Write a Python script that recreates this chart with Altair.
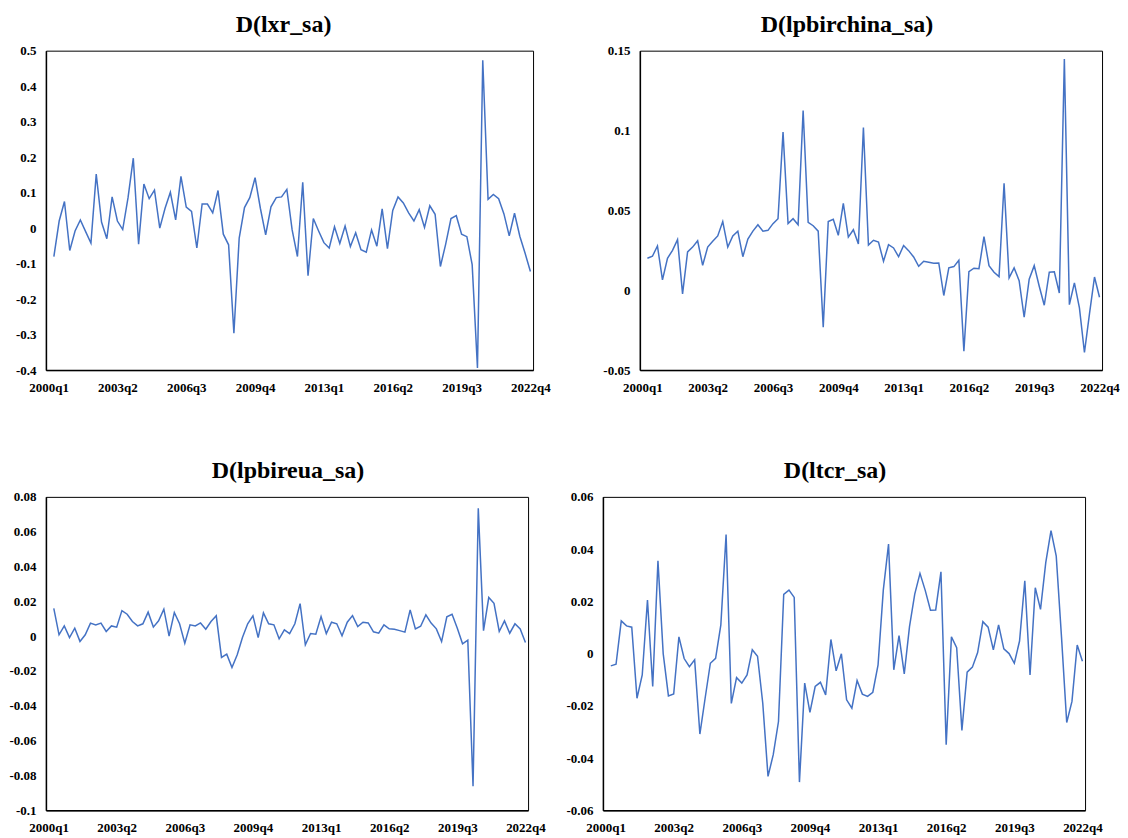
import altair as alt
import pandas as pd

# quarter categories
years = list(range(2000, 2023))
quarters = [f"{y}q{q}" for y in years for q in range(1, 5)]  # 2000q1 .. 2022q4
obs_quarters = quarters[1:]  # first difference starts in 2000q2
tick_labels = ["2000q1", "2003q2", "2006q3", "2009q4", "2013q1", "2016q2", "2019q3", "2022q4"]

d_lxr = [-0.080, 0.020, 0.075, -0.063, -0.008, 0.023, -0.010, -0.042, 0.152, 0.017,
         -0.030, 0.088, 0.020, -0.004, 0.085, 0.197, -0.045, 0.124, 0.083, 0.107,
         0.000, 0.056, 0.101, 0.023, 0.146, 0.059, 0.047, -0.056, 0.068, 0.068,
         0.043, 0.106, -0.017, -0.047, -0.296, -0.028, 0.058, 0.086, 0.142, 0.056,
         -0.019, 0.060, 0.086, 0.088, 0.109, -0.005, -0.080, 0.129, -0.134, 0.027,
         -0.008, -0.041, -0.056, 0.004, -0.043, 0.006, -0.052, -0.013, -0.061, -0.068,
         -0.005, -0.051, 0.054, -0.058, 0.050, 0.088, 0.071, 0.043, 0.020, 0.052,
         0.002, 0.063, 0.039, -0.108, -0.045, 0.027, 0.035, -0.017, -0.024, -0.103,
         -0.394, 0.473, 0.081, 0.095, 0.083, 0.040, -0.022, 0.042, -0.023, -0.071,
         -0.122]

d_lpbirchina = [0.0200, 0.0213, 0.0277, 0.0065, 0.0200, 0.0250, 0.0317, -0.0023, 0.0240, 0.0270,
                0.0310, 0.0156, 0.0270, 0.0306, 0.0340, 0.0430, 0.0270, 0.0340, 0.0370, 0.0210,
                0.0320, 0.0370, 0.0410, 0.0370, 0.0375, 0.0417, 0.0448, 0.0990, 0.0417, 0.0448,
                0.0410, 0.1125, 0.0425, 0.0404, 0.0370, -0.0231, 0.0430, 0.0444, 0.0344, 0.0544,
                0.0333, 0.0379, 0.0290, 0.1019, 0.0283, 0.0313, 0.0302, 0.0181, 0.0285, 0.0265,
                0.0210, 0.0280, 0.0248, 0.0208, 0.0150, 0.0181, 0.0175, 0.0169, 0.0171, -0.0033,
                0.0140, 0.0148, 0.0188, -0.0381, 0.0117, 0.0138, 0.0135, 0.0335, 0.0154, 0.0113,
                0.0085, 0.0669, 0.0077, 0.0140, 0.0060, -0.0169, 0.0069, 0.0154, 0.0025, -0.0094,
                0.0113, 0.0115, -0.0017, 0.1448, -0.0090, 0.0046, -0.0110, -0.0390, -0.0148, 0.0083,
                -0.0044]

d_lpbireua = [0.0160, 0.0008, 0.0059, -0.0008, 0.0046, -0.0030, 0.0008, 0.0075, 0.0065, 0.0075,
              0.0027, 0.0059, 0.0052, 0.0147, 0.0126, 0.0084, 0.0059, 0.0071, 0.0138, 0.0052,
              0.0088, 0.0155, 0.0000, 0.0136, 0.0071, -0.0040, 0.0065, 0.0059, 0.0076, 0.0040,
              0.0084, 0.0117, -0.0122, -0.0103, -0.0180, -0.0107, -0.0008, 0.0071, 0.0117, -0.0008,
              0.0134, 0.0071, 0.0065, -0.0015, 0.0036, 0.0015, 0.0071, 0.0187, -0.0050, 0.0015,
              0.0011, 0.0113, 0.0015, 0.0080, 0.0071, 0.0002, 0.0080, 0.0118, 0.0055, 0.0080,
              0.0076, 0.0025, 0.0017, 0.0065, 0.0042, 0.0040, 0.0032, 0.0023, 0.0151, 0.0042,
              0.0057, 0.0122, 0.0075, 0.0042, -0.0031, 0.0111, 0.0126, 0.0046, -0.0044, -0.0023,
              -0.0862, 0.0734, 0.0032, 0.0222, 0.0189, 0.0027, 0.0088, 0.0017, 0.0071, 0.0042,
              -0.0036]

d_ltcr = [-0.0047, -0.0041, 0.0125, 0.0106, 0.0101, -0.0171, -0.0082, 0.0205, -0.0126, 0.0355,
          0.0000, -0.0162, -0.0155, 0.0064, -0.0019, -0.0050, -0.0024, -0.0308, -0.0171, -0.0037,
          -0.0018, 0.0110, 0.0456, -0.0191, -0.0092, -0.0113, -0.0082, 0.0015, -0.0010, -0.0190,
          -0.0470, -0.0387, -0.0260, 0.0227, 0.0243, 0.0215, -0.0492, -0.0113, -0.0225, -0.0126,
          -0.0110, -0.0158, 0.0054, -0.0066, -0.0001, -0.0177, -0.0209, -0.0103, -0.0155, -0.0164,
          -0.0148, -0.0043, 0.0243, 0.0419, -0.0062, 0.0069, -0.0078, 0.0103, 0.0228, 0.0307,
          0.0242, 0.0166, 0.0167, 0.0313, -0.0349, 0.0064, 0.0023, -0.0294, -0.0071, -0.0052,
          0.0004, 0.0122, 0.0101, 0.0014, 0.0110, 0.0018, 0.0000, -0.0037, 0.0048, 0.0279,
          -0.0082, 0.0252, 0.0169, 0.0348, 0.0471, 0.0373, 0.0065, -0.0264, -0.0183, 0.0033,
          -0.0029]

titles = ["D(lxr_sa)", "D(lpbirchina_sa)", "D(lpbireua_sa)", "D(ltcr_sa)"]
ticks_lxr = [-0.4, -0.3, -0.2, -0.1, 0, 0.1, 0.2, 0.3, 0.4, 0.5]
ticks_china = [-0.05, 0, 0.05, 0.1, 0.15]
ticks_eua = [-0.1, -0.08, -0.06, -0.04, -0.02, 0, 0.02, 0.04, 0.06, 0.08]
ticks_tcr = [-0.06, -0.04, -0.02, 0, 0.02, 0.04, 0.06]

FONT = "Liberation Serif"
LINE_COLOR = "#4472C4"


def panel(title, values, ticks, decimals, width, height, dx):
    df = pd.DataFrame({"quarter": obs_quarters, "value": values})
    mult = 10 ** decimals
    label_expr = f"toString(round(datum.value*{mult})/{mult})"
    return (
        alt.Chart(df, title=alt.Title(title, dx=dx))
        .mark_line(color=LINE_COLOR, strokeWidth=1.5)
        .encode(
            x=alt.X(
                "quarter:O",
                scale=alt.Scale(type="point", domain=quarters, padding=0.5),
                axis=alt.Axis(values=tick_labels, labelAngle=0, title=None,
                              labelOverlap=False),
            ),
            y=alt.Y(
                "value:Q",
                scale=alt.Scale(domain=[ticks[0], ticks[-1]], nice=False, zero=False),
                axis=alt.Axis(values=ticks, labelExpr=label_expr, title=None),
            ),
        )
        .properties(width=width, height=height)
    )


p1 = panel(titles[0], d_lxr, ticks_lxr, 1, 488, 320, -6)
p2 = panel(titles[1], d_lpbirchina, ticks_china, 2, 463, 320, -24)
p3 = panel(titles[2], d_lpbireua, ticks_eua, 2, 483, 314, 1)
p4 = panel(titles[3], d_ltcr, ticks_tcr, 2, 483, 314, -9)

row1 = alt.hconcat(p1, p2, spacing=107, bounds="flush")
row2 = alt.hconcat(p3, p4, spacing=75, bounds="flush")

chart = (
    alt.vconcat(row1, row2, spacing=63)
    .properties(padding={"left": 0, "top": 3, "right": 0, "bottom": 0})
    .configure_view(stroke="black", strokeWidth=1)
    .configure_axis(
        labelFont=FONT,
        labelFontWeight="bold",
        labelFontSize=13,
        labelColor="black",
        ticks=False,
        grid=False,
        domainColor="black",
        domainWidth=1.5,
    )
    .configure_axisX(labelPadding=11)
    .configure_axisY(labelPadding=10)
    .configure_title(
        font=FONT,
        fontSize=24,
        fontWeight="bold",
        color="black",
        anchor="middle",
        baseline="alphabetic",
        offset=8,
    )
)

chart.save("out.html", embed_options={"renderer": "svg", "actions": False})
